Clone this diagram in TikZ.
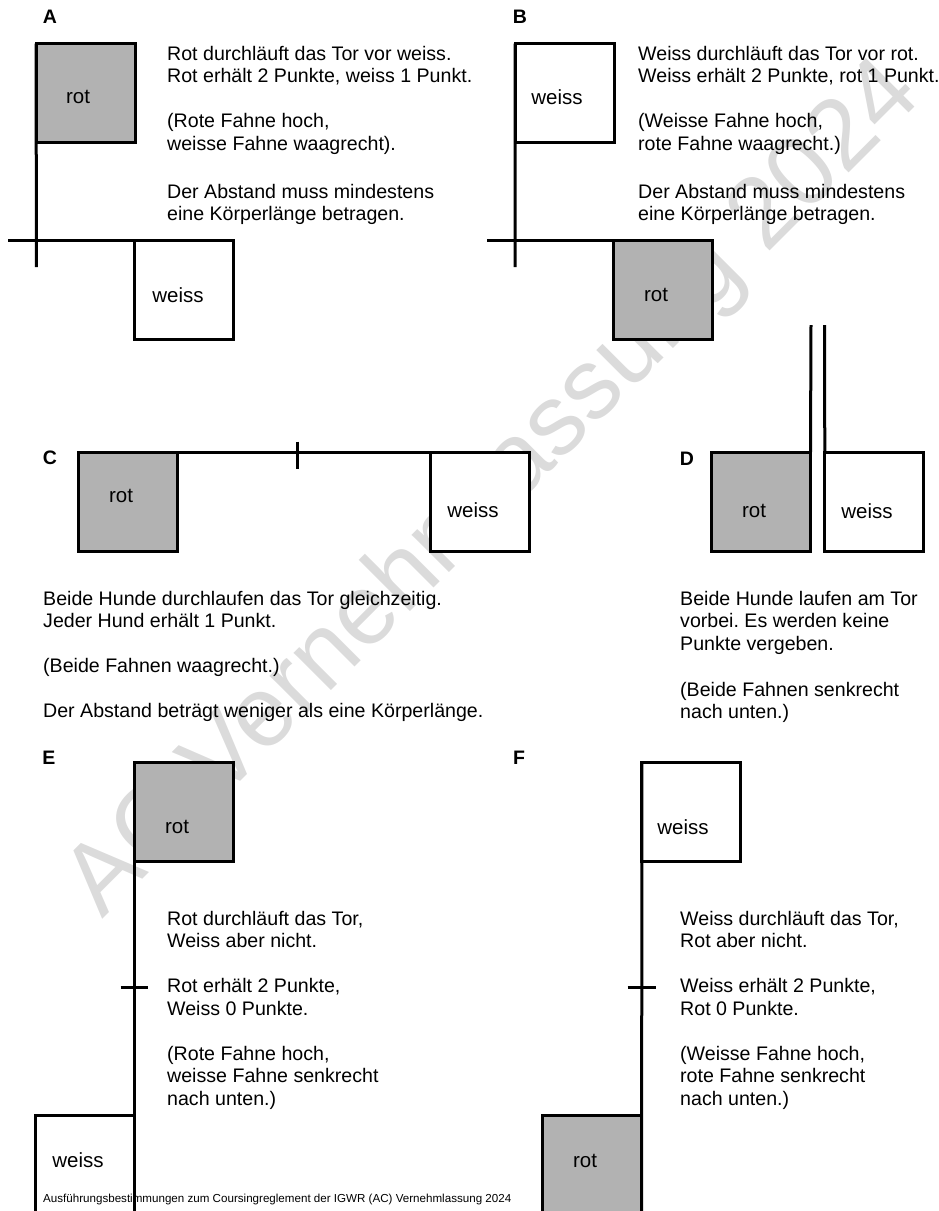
\documentclass[tikz,border=0pt]{standalone}
\usepackage{fontspec}
\setmainfont{Liberation Sans}
\frenchspacing
\definecolor{rotgrau}{gray}{0.70}
\definecolor{wasserzeichen}{gray}{0.86}

\begin{document}
\begin{tikzpicture}[x=1pt, y=-1pt,
		fahne/.style={draw, line width=3pt, minimum width=99pt, minimum height=99pt, inner sep=0pt, outer sep=0pt},
		stange/.style={line width=3pt},
		schild/.style={font=\fontsize{20.5}{24}\selectfont},
		buchstabe/.style={font=\fontsize{19.5}{22.5}\selectfont\bfseries},
		regel/.style={anchor=north west, align=left, inner sep=0pt, font=\fontsize{19.6}{22.5}\selectfont}]
			\clip (0,0) rectangle (939,1211);

			% Watermark
			\node[rotate=45, text=wasserzeichen, font=\fontsize{100}{120}\selectfont] (wz) at (495,490) {AC Vernehmlassung 2024};

			% A
			\node[buchstabe] (A) at (50,17) {A};
			\coordinate (Afuss) at (36.3,267);
			\coordinate (Alinks) at (8,240.3);
			\draw[stange] (Alinks) -- (233.5,240.3);
			\node[fahne, fill=rotgrau] (Arot) at (85.7,93) {};
			\node[fahne, fill=white] (Aweiss) at (184.2,290) {};
			\draw[stange] (Arot.north west) -- (Afuss);
			\node[schild] at (78,97) {rot};
			\node[schild] at (178,295) {weiss};
			\node[regel] (Atext) at (167,46) {Rot durchläuft das Tor vor weiss.\\Rot erhält 2 Punkte, weiss 1 Punkt.\\[22.5pt](Rote Fahne hoch,\\weisse Fahne waagrecht).\\[25.5pt]Der Abstand muss mindestens\\eine Körperlänge betragen.};

			% B
			\node[buchstabe] (B) at (520,17) {B};
			\coordinate (Bfuss) at (515,267);
			\coordinate (Blinks) at (487,240.3);
			\draw[stange] (Blinks) -- (712.5,240.3);
			\node[fahne, fill=white] (Bweiss) at (564.7,93) {};
			\node[fahne, fill=rotgrau] (Brot) at (663,290) {};
			\draw[stange] (Bweiss.north west) -- (Bfuss);
			\node[schild] at (557,97) {weiss};
			\node[schild] at (656,295) {rot};
			\node[regel] (Btext) at (638,46) {Weiss durchläuft das Tor vor rot.\\Weiss erhält 2 Punkte, rot 1 Punkt.\\[22.5pt](Weisse Fahne hoch,\\rote Fahne waagrecht.)\\[25.5pt]Der Abstand muss mindestens\\eine Körperlänge betragen.};

			% C
			\node[buchstabe] (C) at (50,458) {C};
			\node[fahne, fill=rotgrau] (Crot) at (127.5,501.5) {};
			\node[fahne, fill=white] (Cweiss) at (480,501.5) {};
			\draw[stange] (Crot.north east) -- (Cweiss.north west);
			\draw[stange] (297.3,441.7) -- (297.3,469.3);
			\node[schild] at (121,496) {rot};
			\node[schild] at (473,510) {weiss};
			\node[regel] (Ctext) at (43,591) {Beide Hunde durchlaufen das Tor gleichzeitig.\\Jeder Hund erhält 1 Punkt.\\[22.5pt](Beide Fahnen waagrecht.)\\[22.5pt]Der Abstand beträgt weniger als eine Körperlänge.};

			% D
			\node[buchstabe] (D) at (687,459) {D};
			\node[fahne, fill=rotgrau] (Drot) at (761,501.7) {};
			\node[fahne, fill=white] (Dweiss) at (874.3,501.7) {};
			\coordinate (Droben) at (811,325);
			\coordinate (Dwoben) at (824.5,325);
			\draw[stange] (Drot.north east) -- (Droben);
			\draw[stange] (Dweiss.north west) -- (Dwoben);
			\node[schild] at (754,511) {rot};
			\node[schild] at (867,511) {weiss};
			\node[regel] (Dtext) at (680,591) {Beide Hunde laufen am Tor\\vorbei. Es werden keine\\Punkte vergeben.\\[23.5pt](Beide Fahnen senkrecht\\nach unten.)};

			% E
			\node[buchstabe] (E) at (49,758) {E};
			\node[fahne, fill=rotgrau] (Erot) at (183.8,811.5) {};
			\node[fahne, fill=white] (Eweiss) at (85,1164.5) {};
			\coordinate (Efuss) at (134.3,1215);
			\draw[stange] (Erot.north west) -- (Efuss);
			\draw[stange] (120.7,987.3) -- (148.3,987.3);
			\node[schild] at (177,827) {rot};
			\node[schild] at (78,1160) {weiss};
			\node[regel] (Etext) at (167,911) {Rot durchläuft das Tor,\\Weiss aber nicht.\\[22.5pt]Rot erhält 2 Punkte,\\Weiss 0 Punkte.\\[22.5pt](Rote Fahne hoch,\\weisse Fahne senkrecht\\nach unten.)};

			% F
			\node[buchstabe] (F) at (519,758) {F};
			\node[fahne, fill=white] (Fweiss) at (691.3,811.5) {};
			\node[fahne, fill=rotgrau] (Frot) at (592.3,1164.5) {};
			\coordinate (Ffuss) at (641.7,1215);
			\draw[stange] (Fweiss.north west) -- (Ffuss);
			\draw[stange] (627.7,987.3) -- (655.7,987.3);
			\node[schild] at (683,827) {weiss};
			\node[schild] at (585,1161) {rot};
			\node[regel] (Ftext) at (680,911) {Weiss durchläuft das Tor,\\Rot aber nicht.\\[22.5pt]Weiss erhält 2 Punkte,\\Rot 0 Punkte.\\[22.5pt](Weisse Fahne hoch,\\rote Fahne senkrecht\\nach unten.)};

			% Footer
			\node[anchor=west, inner sep=0pt, font=\fontsize{11.6}{14}\selectfont] (fuss) at (43,1199) {Ausführungsbestimmungen zum Coursingreglement der IGWR (AC) Vernehmlassung 2024};
\end{tikzpicture}
\end{document}
